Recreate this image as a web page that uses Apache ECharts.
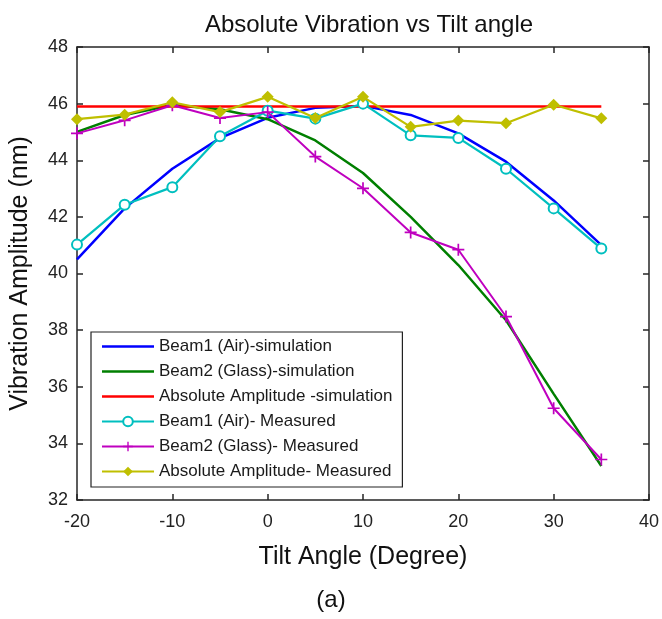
<!DOCTYPE html>
<html>
<head>
<meta charset="utf-8">
<script src="https://cdn.jsdelivr.net/npm/echarts@6/dist/echarts.min.js"></script>
<style>
  html, body { margin: 0; padding: 0; background: #fff; }
  #chart { width: 662px; height: 619px; }
</style>
</head>
<body>
<div id="chart"></div>
<script>
// tilt angles (degree)
const angles = [-20, -15, -10, -5, 0, 5, 10, 15, 20, 25, 30, 35];

// simulation
const beam1Sim = [40.5, 42.3, 43.7, 44.78, 45.5, 45.85, 45.92, 45.6, 44.95, 43.95, 42.58, 41.0];
const beam2Sim = [45.0, 45.6, 45.95, 45.8, 45.45, 44.7, 43.55, 42.0, 40.3, 38.35, 35.75, 33.2];
const absSim = [45.9, 45.9, 45.9, 45.9, 45.9, 45.9, 45.9, 45.9, 45.9, 45.9, 45.9, 45.9];

// measured
const beam1Meas = [41.02, 42.43, 43.05, 44.85, 45.75, 45.47, 46.0, 44.88, 44.79, 43.7, 42.3, 40.88];
const beam2Meas = [44.95, 45.41, 45.94, 45.49, 45.7, 44.13, 43.01, 41.45, 40.84, 38.48, 35.24, 33.43];
const absMeas = [45.45, 45.61, 46.05, 45.7, 46.24, 45.49, 46.24, 45.18, 45.4, 45.31, 45.96, 45.48];

const xTicks = { min: -20, max: 40, interval: 10 };
const yTicks = { min: 32, max: 48, interval: 2 };

const font = 'Liberation Sans, Arial, sans-serif';
const axisColor = '#262626';

const pairs = (ys) => angles.map((a, i) => [a, ys[i]]);

const plusPath = 'path://M-1,-7H1V-1H7V1H1V7H-1V1H-7V-1H-1Z';
// plain line for legend entries without markers
const lineIcon = 'path://M0,0H52V2.4H0Z';

const chart = echarts.init(document.getElementById('chart'), null, { renderer: 'canvas' });

const frameAxis = {
    axisLine: { show: true, onZero: false, lineStyle: { color: axisColor, width: 1.5 } },
    axisTick: { show: true, inside: true, length: 6, lineStyle: { color: axisColor, width: 1.5 } },
    splitLine: { show: false }
};

chart.setOption({
    animation: false,
    backgroundColor: '#fff',
    title: {
        text: 'Absolute Vibration vs Tilt angle',
        left: 364,
        textAlign: 'center',
        top: 8,
        textStyle: { fontFamily: font, fontSize: 24, fontWeight: 'normal', color: '#111' }
    },
    grid: { left: 76, top: 47, right: 10, bottom: 119 },
    legend: {
        orient: 'vertical',
        left: 91,
        top: 332,
        padding: [6, 10, 7, 10],
        itemWidth: 52,
        itemHeight: 12,
        itemGap: 8,
        symbolKeepAspect: true,
        backgroundColor: '#fff',
        borderColor: '#222',
        borderWidth: 1.2,
        textStyle: { fontFamily: font, fontSize: 17, lineHeight: 17, color: '#1a1a1a' },
        data: [
            { name: 'Beam1 (Air)-simulation', icon: lineIcon },
            { name: 'Beam2 (Glass)-simulation', icon: lineIcon },
            { name: 'Absolute Amplitude -simulation', icon: lineIcon },
            'Beam1 (Air)- Measured',
            'Beam2 (Glass)- Measured',
            'Absolute Amplitude- Measured'
        ]
    },
    xAxis: [
        Object.assign({
            type: 'value',
            min: xTicks.min, max: xTicks.max, interval: xTicks.interval,
            name: 'Tilt Angle (Degree)',
            nameLocation: 'middle',
            nameGap: 45,
            nameTextStyle: { fontFamily: font, fontSize: 25, color: '#111' },
            axisLabel: { fontFamily: font, fontSize: 18, color: '#222', margin: 13 }
        }, frameAxis),
        Object.assign({
            type: 'value', position: 'top',
            min: xTicks.min, max: xTicks.max, interval: xTicks.interval,
            axisLabel: { show: false }
        }, frameAxis)
    ],
    yAxis: [
        Object.assign({
            type: 'value',
            min: yTicks.min, max: yTicks.max, interval: yTicks.interval,
            name: 'Vibration Amplitude (nm)',
            nameLocation: 'middle',
            nameGap: 44,
            nameTextStyle: { fontFamily: font, fontSize: 25, color: '#111' },
            axisLabel: { fontFamily: font, fontSize: 18, color: '#222', margin: 9 }
        }, frameAxis),
        Object.assign({
            type: 'value', position: 'right',
            min: yTicks.min, max: yTicks.max, interval: yTicks.interval,
            axisLabel: { show: false }
        }, frameAxis)
    ],
    graphic: [{
        type: 'text',
        left: 'center',
        top: 588,
        style: { text: '(a)', fontFamily: font, fontSize: 24, fill: '#111' }
    }],
    series: [
        {
            name: 'Beam1 (Air)-simulation', type: 'line', data: pairs(beam1Sim),
            symbol: 'none', color: '#0000ff', lineStyle: { width: 2.5 }, z: 2
        },
        {
            name: 'Beam2 (Glass)-simulation', type: 'line', data: pairs(beam2Sim),
            symbol: 'none', color: '#007f00', lineStyle: { width: 2.5 }, z: 3
        },
        {
            name: 'Absolute Amplitude -simulation', type: 'line', data: pairs(absSim),
            symbol: 'none', color: '#ff0000', lineStyle: { width: 2.5 }, z: 4
        },
        {
            name: 'Beam1 (Air)- Measured', type: 'line', data: pairs(beam1Meas),
            symbol: 'emptyCircle', symbolSize: 10, color: '#00bfbf',
            lineStyle: { width: 2.2 }, itemStyle: { borderWidth: 2, color: '#00bfbf' }, z: 5
        },
        {
            name: 'Beam2 (Glass)- Measured', type: 'line', data: pairs(beam2Meas),
            symbol: plusPath, symbolSize: 12, color: '#bf00bf',
            lineStyle: { width: 2 }, z: 6
        },
        {
            name: 'Absolute Amplitude- Measured', type: 'line', data: pairs(absMeas),
            symbol: 'diamond', symbolSize: 12, color: '#bfbf00',
            lineStyle: { width: 2.2 }, z: 7
        }
    ]
});
</script>
</body>
</html>
